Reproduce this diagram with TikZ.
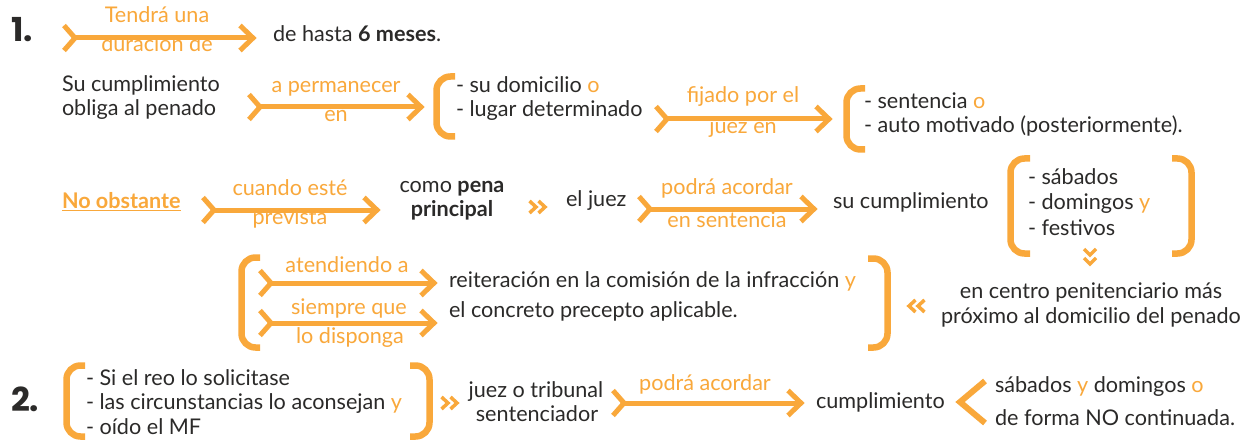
\documentclass[tikz,border=0pt]{standalone}
\usepackage{fontspec}
\setmainfont{Lato}
\newfontfamily\numfont{Poppins}
\usetikzlibrary{calc}
\definecolor{ora}{HTML}{F9A83B}
\definecolor{ink}{HTML}{2B2A29}
\newcommand\harr[2]{%
  \draw[arrline] ($(#1)+(1,-12.5)$) -- ($(#1)+(12,0)$) -- ($(#1)+(1,12.5)$);
  \draw[arrline] ($(#1)+(12,0)$) -- ($(#2)+(-4,0)$);
  \draw[arrline] ($(#2)+(-17,-12.5)$) -- ($(#2)+(-4,0)$) -- ($(#2)+(-17,12.5)$);}
\newcommand\brkt[4]{\draw[brk] (#2,#3) -- (#1,#3) -- (#1,#4) -- (#2,#4);}
\newcommand\og[1]{{\color{ora}#1}}
\begin{document}
\begin{tikzpicture}[x=1pt,y=-1pt,
  every node/.style={inner sep=0pt, outer sep=0pt},
  txt/.style={text=ink, font=\fontsize{21.6}{24}\selectfont},
  lab/.style={text=ora, font=\fontsize{21.6}{24}\selectfont},
  num/.style={text=ink, font=\numfont\bfseries\fontsize{33}{38}\selectfont},
  arrline/.style={draw=ora, line width=5pt, line join=miter, line cap=butt},
  brk/.style={draw=ora, line width=6.5pt, rounded corners=14pt, line cap=butt},
  chev/.style={draw=ora, line width=3.5pt, line join=miter}]
\useasboundingbox (0,0) rectangle (1251,441);
\fill[white] (0,0) rectangle (1251,441);

% ---- row 1
\node[num, anchor=base west] (n1) at (11,42) {1.};
\node[txt, anchor=base west] (t1) at (273,42) {de hasta \textbf{6 meses}.};
\node[lab, anchor=base] (l1a) at (157,23) {Tendrá una};
\node[lab, anchor=base] (l1b) at (157,52) {duración de};
\coordinate (a1s) at (63,38); \coordinate (a1e) at (257,38);
\harr{a1s}{a1e}

% ---- row 2
\node[txt, anchor=base west] (t2a) at (62,92) {Su cumplimiento};
\node[txt, anchor=base west] (t2b) at (62,116) {obliga al penado};
\node[lab, anchor=base] (l2a) at (336,93) {a permanecer};
\node[lab, anchor=base] (l2b) at (336,122) {en};
\coordinate (a2s) at (248,107); \coordinate (a2e) at (425,107);
\harr{a2s}{a2e}
\brkt{436.5}{455}{76.5}{136.5}
\node[txt, anchor=base west] (t3a) at (456,93) {- su domicilio \og{o}};
\node[txt, anchor=base west] (t3b) at (456,117) {- lugar determinado};
\node[lab, anchor=base] (l3a) at (743,103) {fijado por el};
\node[lab, anchor=base] (l3b) at (743,134) {juez en};
\coordinate (a3s) at (655,119); \coordinate (a3e) at (833,119);
\harr{a3s}{a3e}
\brkt{846.5}{865}{88.5}{149.5}
\node[txt, anchor=base west] (t4a) at (864,109) {- sentencia \og{o}};
\node[txt, anchor=base west] (t4b) at (864,133) {- auto motivado (posteriormente).};

% ---- row 3
\node[txt, text=ora, font=\fontsize{21.6}{24}\selectfont\bfseries, anchor=base west] (no) at (62,208) {No obstante};
\draw[ora, line width=1.3pt] ([yshift=-2.5pt]no.base west) -- ([yshift=-2.5pt]no.base east);
\node[lab, anchor=base] (l4a) at (290,196) {cuando esté};
\node[lab, anchor=base] (l4b) at (290,224) {prevista};
\coordinate (a4s) at (202,210); \coordinate (a4e) at (381,210);
\harr{a4s}{a4e}
\node[txt, anchor=base] (t5a) at (452,193) {como \textbf{pena}};
\node[txt, anchor=base] (t5b) at (452,216) {\textbf{principal}};
\draw[chev] (529.5,201) -- (536,207) -- (529.5,213);
\draw[chev] (538.5,201) -- (545,207) -- (538.5,213);
\node[txt, anchor=base west] (t6) at (566,207) {el juez};
\node[lab, anchor=base] (l5a) at (727,195) {podrá acordar};
\node[lab, anchor=base] (l5b) at (727,227) {en sentencia};
\coordinate (a5s) at (638,209); \coordinate (a5e) at (818,209);
\harr{a5s}{a5e}
\node[txt, anchor=base west] (t7) at (833,208) {su cumplimiento};
\brkt{1010.5}{1030}{158.5}{253.5}
\brkt{1191.5}{1172}{158.5}{253.5}
\node[txt, anchor=base west] (t8a) at (1028,185) {- sábados};
\node[txt, anchor=base west] (t8b) at (1028,210) {- domingos \og{y}};
\node[txt, anchor=base west] (t8c) at (1028,235) {- festivos};
\draw[chev] (1084,249) -- (1090,255) -- (1096,249);
\draw[chev] (1084,258) -- (1090,264) -- (1096,258);

% ---- row 4
\node[txt, anchor=base] (t9a) at (1091,298) {en centro penitenciario más};
\node[txt, anchor=base] (t9b) at (1091,323) {próximo al domicilio del penado};
\draw[chev] (924.5,300) -- (918,306) -- (924.5,312);
\draw[chev] (915.5,300) -- (909,306) -- (915.5,312);
\brkt{241.5}{260}{257.5}{347.5}
\brkt{887.5}{868}{258.5}{347.5}
\node[lab, anchor=base] (l6) at (347,272) {atendiendo a};
\coordinate (a6s) at (259,283); \coordinate (a6e) at (438,283);
\harr{a6s}{a6e}
\node[lab, anchor=base] (l7a) at (349,314) {siempre que};
\node[lab, anchor=base] (l7b) at (350,343) {lo disponga};
\coordinate (a7s) at (259,323); \coordinate (a7e) at (438,323);
\harr{a7s}{a7e}
\node[txt, anchor=base west] (t10a) at (449,287) {reiteración en la comisión de la infracción \og{y}};
\node[txt, anchor=base west] (t10b) at (449,317) {el concreto precepto aplicable.};

% ---- row 5
\node[num, anchor=base west] (n2) at (11,411) {2.};
\brkt{66.5}{85}{365.5}{436.5}
\brkt{429.5}{410}{365.5}{436.5}
\node[txt, anchor=base west] (t11a) at (86,385) {- Si el reo lo solicitase};
\node[txt, anchor=base west] (t11b) at (86,409) {- las circunstancias lo aconsejan \og{y}};
\node[txt, anchor=base west] (t11c) at (86,434) {- oído el MF};
\draw[chev] (441.5,397) -- (448,403) -- (441.5,409);
\draw[chev] (450.5,397) -- (457,403) -- (450.5,409);
\node[txt, anchor=base] (t12a) at (536,397) {juez o tribunal};
\node[txt, anchor=base] (t12b) at (537,421) {sentenciador};
\node[lab, anchor=base] (l8) at (705,390) {podrá acordar};
\coordinate (a8s) at (612,403); \coordinate (a8e) at (805,403);
\harr{a8s}{a8e}
\node[txt, anchor=base west] (t13) at (816,408) {cumplimiento};
\draw[ora, line width=6pt, line join=miter] (985,381) -- (960,402) -- (985,423);
\node[txt, anchor=base west] (t14a) at (995,392) {sábados \og{y} domingos \og{o}};
\node[txt, anchor=base west] (t14b) at (995,425) {de forma NO continuada.};
\end{tikzpicture}
\end{document}
